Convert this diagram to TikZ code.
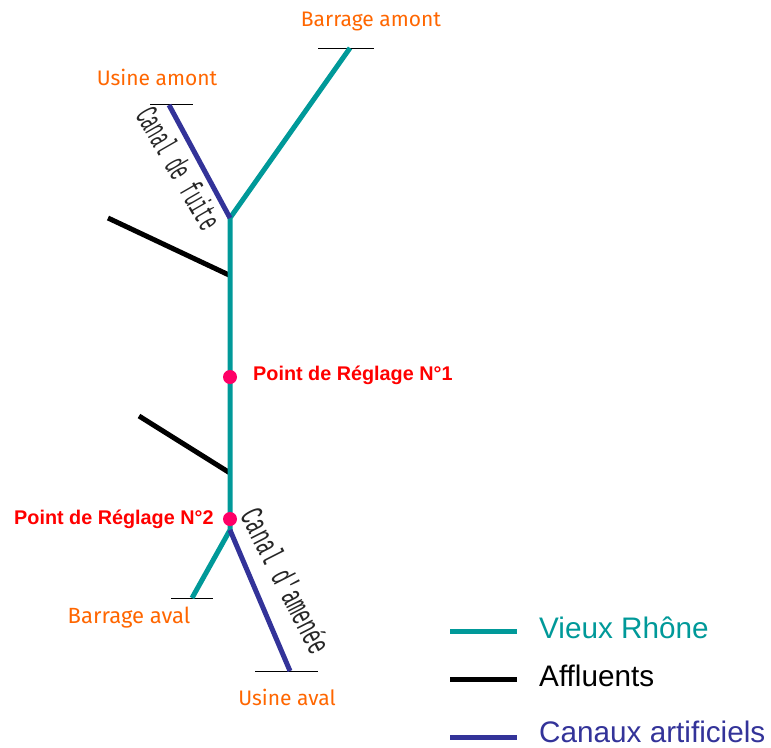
\documentclass[tikz,border=0pt]{standalone}
\usepackage{fontspec}
\setmainfont{Liberation Sans}
\newfontfamily\comicfont{Fira Sans}
\newfontfamily\typefont{Liberation Mono}
\definecolor{rhone}{HTML}{009999}
\definecolor{canal}{HTML}{333399}
\definecolor{usine}{HTML}{FF6600}
\definecolor{regl}{HTML}{FF0000}
\definecolor{dotc}{HTML}{FF0066}
\tikzset{
  rhoneline/.style={draw=rhone,line width=5pt},
  canalline/.style={draw=canal,line width=5pt},
  affline/.style={draw=black,line width=5pt},
  tickline/.style={draw=black,line width=1pt},
  sitelabel/.style={text=usine,font=\comicfont\fontsize{21}{24}\selectfont,inner sep=0pt},
  regllabel/.style={text=regl,font=\bfseries\fontsize{19.8}{22}\selectfont,inner sep=0pt},
  dotmark/.style={circle,fill=dotc,minimum size=14pt,inner sep=0pt},
  legendtext/.style={anchor=west,inner sep=0pt,font=\fontsize{29.7}{32}\selectfont},
  canaltext/.style={text=black!85,font=\typefont\fontsize{33}{35}\selectfont,inner sep=0pt},
}
\begin{document}
\begin{tikzpicture}[x=1pt,y=-1pt]
\useasboundingbox (0,0) rectangle (771,747);
% points
\coordinate (barAm) at (350,48);
\coordinate (usAm) at (169,105);
\coordinate (jTop) at (230,218);
\coordinate (aff1) at (108,218);
\coordinate (aff1j) at (229,275);
\coordinate (aff2) at (139,416);
\coordinate (aff2j) at (230,473);
\coordinate (jBot) at (230,530);
\coordinate (barAv) at (192,598);
\coordinate (usAv) at (290,671);
% end ticks
\coordinate (t1a) at (318,48); \coordinate (t1b) at (374,48);
\coordinate (t2a) at (150,104); \coordinate (t2b) at (193,104);
\coordinate (t3a) at (171,598); \coordinate (t3b) at (213,598);
\coordinate (t4a) at (255,671); \coordinate (t4b) at (318,671);
\draw[tickline] (t1a) -- (t1b);
\draw[tickline] (t2a) -- (t2b);
\draw[tickline] (t3a) -- (t3b);
\draw[tickline] (t4a) -- (t4b);
% rivers
\draw[affline] (aff1) -- (aff1j);
\draw[affline] (aff2) -- (aff2j);
\draw[rhoneline] (barAm) -- (jTop) -- (jBot) -- (barAv);
\draw[canalline] (usAm) -- (jTop);
\draw[canalline] (jBot) -- (usAv);
% points de reglage
\node[dotmark] (p1) at (230,377) {};
\node[dotmark] (p2) at (230,519) {};
\node[regllabel,anchor=west] (l1) at (253,375) {Point de Réglage N°1};
\node[regllabel,anchor=west] (l2) at (14,519) {Point de Réglage N°2};
% site labels
\node[sitelabel] (s1) at (371,22) {Barrage amont};
\node[sitelabel] (s2) at (157,77) {Usine amont};
\node[sitelabel,font=\comicfont\fontsize{22}{24}\selectfont] (s3) at (129,618) {Barrage aval};
\node[sitelabel] (s4) at (287,697) {Usine aval};
% canal labels
\node[canaltext,rotate=-60,xscale=.49] (c1) at (179,168) {Canal de fuite};
\node[canaltext,rotate=-63,xscale=.57] (c2) at (286,581) {Canal d'amenée};
% legend
\coordinate (la1) at (450,631); \coordinate (lb1) at (517,631);
\coordinate (la2) at (450,679); \coordinate (lb2) at (517,679);
\coordinate (la3) at (450,737); \coordinate (lb3) at (517,737);
\draw[rhoneline] (la1) -- (lb1);
\draw[affline] (la2) -- (lb2);
\draw[canalline] (la3) -- (lb3);
\node[legendtext,text=rhone] (t1) at (539,628) {Vieux Rhône};
\node[legendtext,text=black] (t2) at (539,676) {Affluents};
\node[legendtext,text=canal] (t3) at (539,732) {Canaux artificiels};
\end{tikzpicture}
\end{document}
